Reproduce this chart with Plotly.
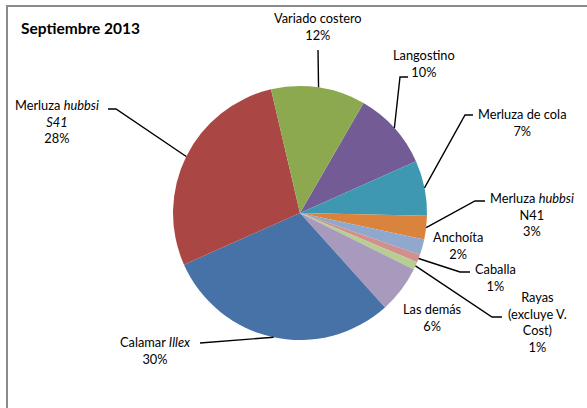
import math
import plotly.graph_objects as go

# ---- data ----
categories = ["Langostino", "Merluza de cola", "Merluza hubbsi N41", "Anchoíta",
              "Caballa", "Rayas (excluye V. Cost)", "Las demás", "Calamar Illex",
              "Merluza hubbsi S41", "Variado costero"]
values = [10, 7, 3, 2, 1, 1, 6, 30, 28, 12]
label_html = ["Langostino", "Merluza de cola", "Merluza <i>hubbsi</i><br>N41", "Anchoíta",
              "Caballa", "Rayas<br>(excluye V.<br>Cost)", "Las demás", "Calamar <i>Illex</i>",
              "Merluza <i>hubbsi</i><br><i>S41</i>", "Variado costero"]
colors = ["#735C96", "#3F98B1", "#D9833C", "#90A8CE", "#D18F8D", "#B6CE92",
          "#A79ABC", "#4672A8", "#AA4744", "#8CA94F"]
title_text = "Septiembre 2013"

# ---- layout constants ----
W, H = 587, 408
cx, cy, R = 300, 213, 127
ROT = 30

def px(x):
    return x / W

def py(y):
    return 1 - y / H

total = sum(values)
mids = []
acc = 0
for v in values:
    mids.append(ROT + 360 * (acc + v / 2) / total)
    acc += v

def tip(i):
    a = math.radians(mids[i])
    return cx + R * math.sin(a), cy - R * math.cos(a)

fig = go.Figure(go.Pie(
    labels=categories, values=values, sort=False, direction="clockwise",
    rotation=ROT, textinfo="none", hoverinfo="label+percent",
    marker=dict(colors=colors, line=dict(width=0)),
    domain=dict(x=[px(cx - R), px(cx + R)], y=[py(cy + R), py(cy - R)]),
    showlegend=False,
))

# label centers (pixel coords) and leader-line elbows (label side)
label_pos = [(424, 63.5), (522, 122.5), (532, 214), (458, 245), (495, 277.5),
             (537, 322), (432, 317.5), (155, 350.5), (57, 121), (318, 26)]
elbows = {
    0: [(408, 77), (400, 77)],
    1: [(473, 115), (465, 115)],
    2: [(485, 201), (475, 201)],
    4: [(470, 272), (460, 272)],
    5: [(502, 317), (492, 317)],
    7: [(200, 343)],
    8: [(108, 109), (116, 109)],
    9: [(318, 50)],
}

FONT = "Lato, Noto Sans, sans-serif"
annotations = []
for i, (lx, ly) in enumerate(label_pos):
    pct = round(values[i] / total * 100)
    annotations.append(dict(
        x=px(lx), y=py(ly), xref="paper", yref="paper", xanchor="center", yanchor="middle",
        text=f"{label_html[i]}<br>{pct}%", showarrow=False, align="center",
        font=dict(family=FONT, size=12.8, color="#000"),
    ))
annotations.append(dict(
    x=px(19), y=py(28), xref="paper", yref="paper", xanchor="left", yanchor="middle",
    text=f"<b>{title_text}</b>", showarrow=False,
    font=dict(family=FONT, size=15.5, color="#000"),
))

shapes = []
for i, pts in elbows.items():
    tx, ty = tip(i)
    allp = pts + [(tx, ty)]
    path = "M " + " L ".join(f"{px(x):.5f},{py(y):.5f}" for x, y in allp)
    shapes.append(dict(type="path", xref="paper", yref="paper", path=path,
                       line=dict(color="#000", width=1.4)))
# chart border
shapes.append(dict(type="rect", xref="paper", yref="paper",
                   x0=px(7), x1=px(W + 10), y0=py(H + 10), y1=py(6),
                   line=dict(color="#8A8A8A", width=2), layer="below"))

fig.update_layout(
    width=W, height=H, margin=dict(l=0, r=0, t=0, b=0),
    paper_bgcolor="white", plot_bgcolor="white",
    annotations=annotations, shapes=shapes,
)

fig.write_html("out.html", config={"displayModeBar": False},
               post_script="document.body.style.margin='0';")
